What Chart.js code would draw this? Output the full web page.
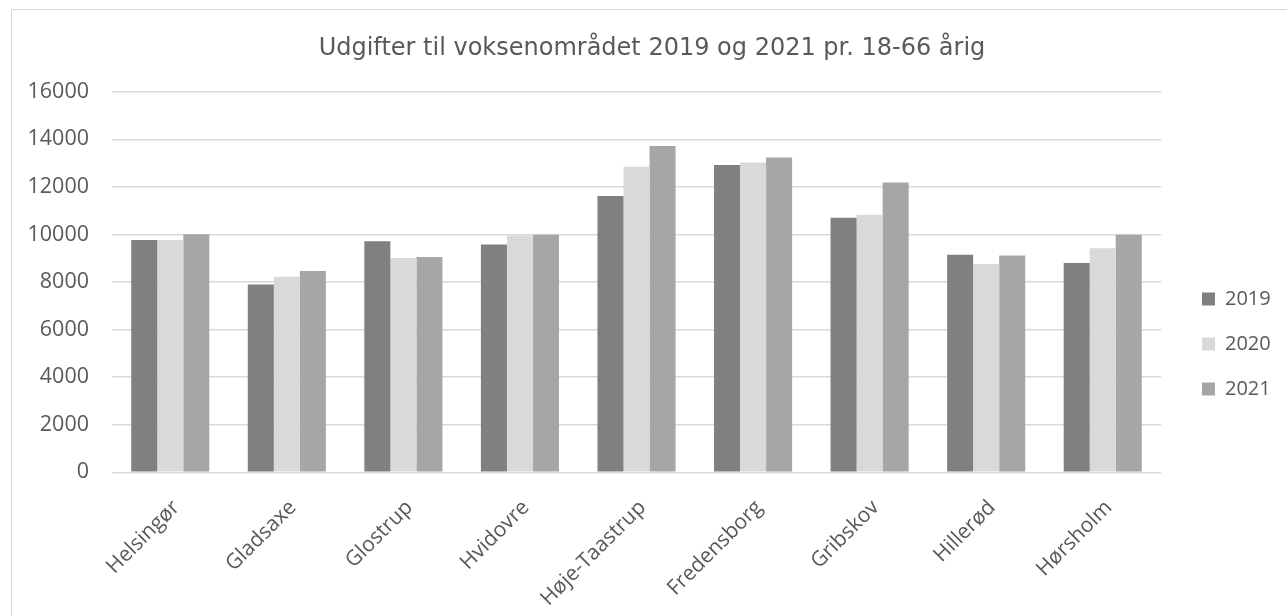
<!DOCTYPE html>
<html>
<head>
<meta charset="utf-8">
<script src="https://cdn.jsdelivr.net/npm/chart.js@4/dist/chart.umd.min.js"></script>
<style>
  html, body { margin: 0; padding: 0; background: #fff; overflow: hidden; width: 1287px; height: 616px; }
  #wrap { position: absolute; left: 11px; top: 9px; width: 1300px; height: 640px; border: 1.5px solid #d9d9d9; background:#fff; }
  #c { position: absolute; left: 0; top: 0; }
</style>
</head>
<body>
<div id="wrap"><canvas id="c" width="1280" height="610"></canvas></div>
<script>
const categories = ["Helsingør", "Gladsaxe", "Glostrup", "Hvidovre", "Høje-Taastrup", "Fredensborg", "Gribskov", "Hillerød", "Hørsholm"];
const values2019 = [9770, 7900, 9710, 9580, 11620, 12920, 10700, 9150, 8800];
const values2020 = [9770, 8220, 9010, 9950, 12850, 13020, 10830, 8760, 9420];
const values2021 = [10010, 8460, 9050, 9990, 13720, 13230, 12180, 9110, 9990];
const seriesNames = ["2019", "2020", "2021"];
const yTicks = [0, 2000, 4000, 6000, 8000, 10000, 12000, 14000, 16000];
const titleText = "Udgifter til voksenområdet 2019 og 2021 pr. 18-66 årig";

const textColor = "#595959";

const legendLayout = {
  id: "legendLayout",
  afterInit(chart) {
    const l = chart.legend;
    if (!l || l._patched) return;
    const orig = l.fit.bind(l);
    l.fit = function () { orig(); this.width = 131; };
    l._patched = true;
  },
  afterLayout(chart) {
    const l = chart.legend;
    if (!l) return;
    l.left += 16; l.right += 16;
    l.top += 29; l.bottom += 29;
  }
};

new Chart(document.getElementById("c"), {
  type: "bar",
  data: {
    labels: categories,
    datasets: [
      { label: seriesNames[0], data: values2019, backgroundColor: "#808080" },
      { label: seriesNames[1], data: values2020, backgroundColor: "#d9d9d9" },
      { label: seriesNames[2], data: values2021, backgroundColor: "#a6a6a6" }
    ]
  },
  options: {
    responsive: false,
    animation: false,
    devicePixelRatio: 1,
    layout: { padding: 0 },
    datasets: { bar: { categoryPercentage: 0.67, barPercentage: 1.0 } },
    plugins: {
      title: {
        display: true,
        text: titleText,
        color: textColor,
        font: { family: "DejaVu Sans", size: 24, weight: "normal" },
        padding: { top: 24, bottom: 28.9 }
      },
      legend: {
        position: "right",
        labels: {
          color: textColor,
          font: { family: "Open Sans", size: 20 },
          boxWidth: 13,
          boxHeight: 13,
          padding: 25
        }
      },
      tooltip: { enabled: false }
    },
    scales: {
      x: {
        grid: { display: false },
        border: { display: false },
        ticks: {
          color: textColor,
          font: { family: "Open Sans", size: 21 },
          minRotation: 45,
          maxRotation: 45,
          padding: 15,
          labelOffset: 6
        },
        afterFit(scale) { scale.height = 147.7; }
      },
      y: {
        min: 0,
        max: 16000,
        afterBuildTicks(scale) { scale.ticks = yTicks.map(v => ({ value: v })); },
        grid: { color: "#d9d9d9", lineWidth: 1.5, drawTicks: false },
        border: { display: false },
        ticks: {
          color: textColor,
          font: { family: "Open Sans", size: 21.5 },
          padding: 23,
          callback: (v) => String(v)
        },
        afterFit(scale) { scale.width = 100; }
      }
    }
  },
  plugins: [legendLayout]
});
</script>
</body>
</html>
